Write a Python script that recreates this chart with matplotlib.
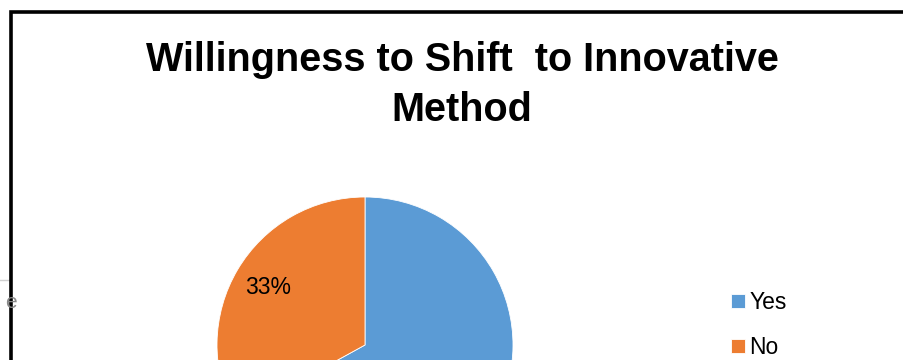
#!/usr/bin/env python3

# Libraries
import matplotlib
matplotlib.use('Agg')
from matplotlib import pyplot as plt
from matplotlib.patches import Rectangle
from matplotlib.lines import Line2D

# Data
Labels = ['Yes', 'No']
Values = [67, 33]
Colors = ['#5B9BD5', '#ED7D31']
Title = 'Willingness to Shift  to Innovative\nMethod'

W, H = 904, 360


def main():
    plt.rcParams['font.family'] = ['Liberation Sans Narrow', 'Liberation Sans', 'DejaVu Sans']
    fig = plt.figure(figsize=(W / 100, H / 100), dpi=100)

    # leftover spreadsheet bits outside the chart frame
    fig.add_artist(Line2D([0, 10 / W], [1 - 280 / H, 1 - 280 / H], color='#d0d0d0', lw=1))
    fig.text(5 / W, 1 - 302 / H, 'e', color='#888888', fontsize=15, va='center', ha='left')

    # chart frame (cropped on right and bottom)
    fig.add_artist(Rectangle((11 / W, -0.1), 1.2, 1 - 11.5 / H + 0.1,
                             transform=fig.transFigure, facecolor='white',
                             edgecolor='black', lw=2.6, zorder=2))

    # title
    fig.text(462 / W, 1 - 41 / H, Title, ha='center', va='top', fontsize=28.5,
             fontweight='bold', linespacing=1.4, zorder=3)

    # pie, centre (365, 345) px, radius 148 px
    cx, cy, r = 365, 345, 148
    ax = fig.add_axes([(cx - r) / W, (H - cy - r) / H, 2 * r / W, 2 * r / H], zorder=3)
    wedges, texts, autotexts = ax.pie(Values, colors=Colors, startangle=90, counterclock=False,
                                      autopct='%1.0f%%', pctdistance=0.76,
                                      wedgeprops=dict(edgecolor='white', linewidth=0.6),
                                      textprops=dict(fontsize=16.5, color='black'))
    ax.set_xlim(-1, 1)
    ax.set_ylim(-1, 1)
    ax.set_axis_off()

    # legend
    fig.legend(wedges, Labels, loc='upper left', bbox_to_anchor=(722 / W, 1 - 282 / H),
               frameon=False, fontsize=16.5, handlelength=0.6, handleheight=0.6,
               handletextpad=0.2, labelspacing=0.95, borderaxespad=0)

    fig.savefig('out.png', dpi=100, facecolor='white')


if __name__ == '__main__':
    main()
